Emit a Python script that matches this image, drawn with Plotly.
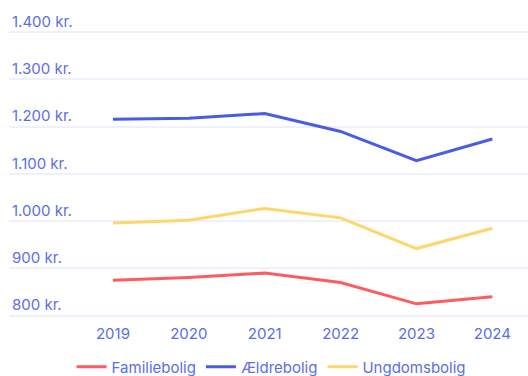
import plotly.graph_objects as go

years = [2019, 2020, 2021, 2022, 2023, 2024]
familiebolig = [875, 881, 890, 870, 825, 840]
aeldrebolig = [1216, 1218, 1228, 1190, 1128, 1174]
ungdomsbolig = [996, 1002, 1027, 1007, 942, 985]

y_ticks = [800, 900, 1000, 1100, 1200, 1300, 1400]
y_labels = ["800 kr.", "900 kr.", "1.000 kr.", "1.100 kr.", "1.200 kr.", "1.300 kr.", "1.400 kr."]

text_color = "#5b6ee8"
grid_color = "#eef0fb"
font_family = "Inter, Lato, sans-serif"

series = [
    ("Familiebolig", familiebolig, "#ff5a5f"),
    ("Ældrebolig", aeldrebolig, "#4a5ce6"),
    ("Ungdomsbolig", ungdomsbolig, "#ffd66b"),
]

fig = go.Figure()
for name, values, color in series:
    fig.add_trace(go.Scatter(
        x=years, y=values, name=name, mode="lines",
        line=dict(color=color, width=3),
    ))

fig.update_layout(
    width=528, height=376,
    margin=dict(l=9, r=0, t=11, b=58, autoexpand=False),
    paper_bgcolor="white", plot_bgcolor="white",
    font=dict(family=font_family, size=15, color=text_color),
    showlegend=True,
    legend=dict(
        orientation="h", x=0.505, xanchor="center",
        yref="container", y=0.024, yanchor="middle",
        font=dict(size=15, color=text_color), itemwidth=30,
        tracegroupgap=0,
    ),
    xaxis=dict(
        range=[2019 - 1.37, 2024 + 0.47],
        tickvals=years, ticktext=[str(y) for y in years],
        showgrid=False, zeroline=False, showline=False, ticks="",
        ticklabelstandoff=5,
        tickfont=dict(size=15, color=text_color),
    ),
    yaxis=dict(
        range=[795, 1445],
        tickvals=y_ticks, ticktext=y_labels,
        ticklabelposition="inside top",
        showgrid=True, gridcolor=grid_color, gridwidth=2,
        zeroline=False, showline=False, ticks="",
        tickfont=dict(size=15, color=text_color),
    ),
)

fig.write_html("out.html")
